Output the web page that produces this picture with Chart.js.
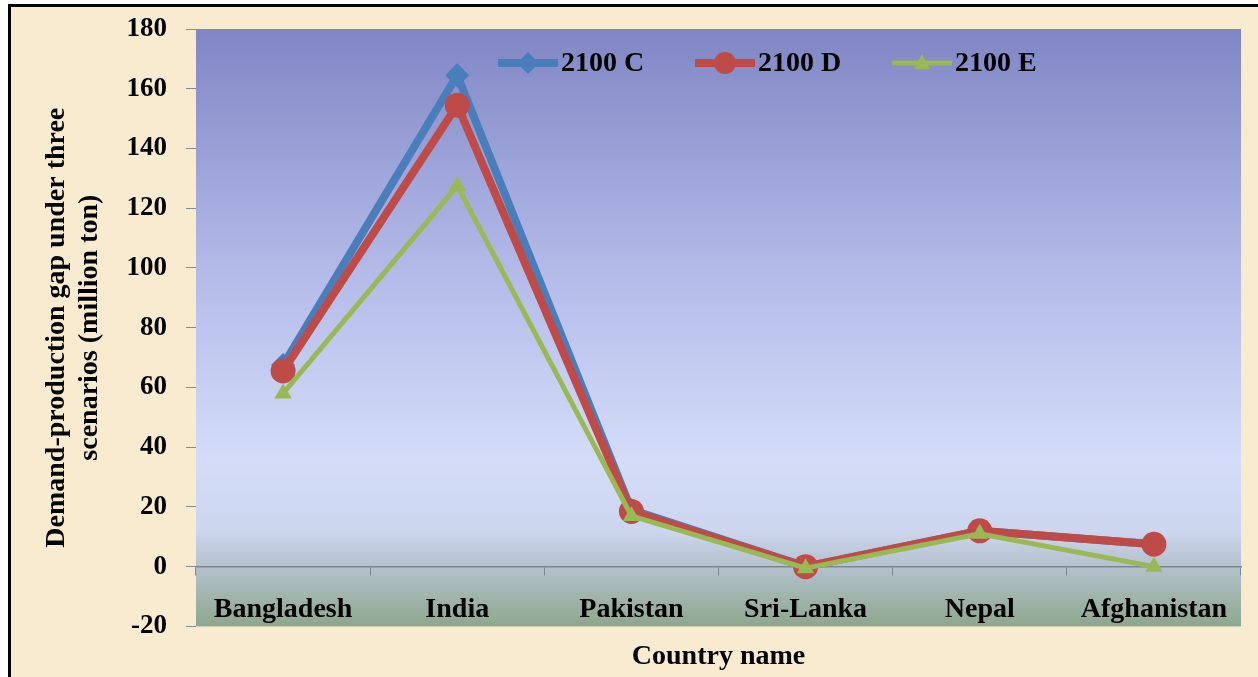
<!DOCTYPE html>
<html>
<head>
<meta charset="utf-8">
<script src="https://cdn.jsdelivr.net/npm/chart.js@4.4.1/dist/chart.umd.min.js"></script>
<style>
  html, body { margin: 0; padding: 0; background: #ffffff; overflow: hidden; }
  #frame { position: absolute; left: 8px; top: 4px; width: 1270px; height: 690px;
           border-left: 3px solid #000; border-top: 3px solid #000; background: #f8ebd0; }
  #wrap { position: absolute; left: 0; top: 0; width: 1258px; height: 677px; }
</style>
</head>
<body>
<div id="frame"></div>
<div id="wrap"><canvas id="lineChart"></canvas></div>
<script>
// chart values
var countries = ['Bangladesh', 'India', 'Pakistan', 'Sri-Lanka', 'Nepal', 'Afghanistan'];
var scenarioC = [67.5, 164.5, 19, 0, 12, 7.5];
var scenarioD = [65.5, 154.5, 18.5, 0, 12, 7.5];
var scenarioE = [58, 127.5, 17, -0.5, 11, 0];
var seriesNames = ['2100 C', '2100 D', '2100 E'];
var yMin = -20, yMax = 180, yStep = 20;

var yTitle = ['Demand-production gap under three', 'scenarios (million ton)'];
var xTitle = 'Country name';

var colors = ['#4a7ebb', '#be4b48', '#98b954'];
var styles = ['rectRot', 'circle', 'triangle'];
var lineWidths = [8, 8, 5];

Chart.defaults.font.family = "'Liberation Serif', 'Times New Roman', serif";
Chart.defaults.color = '#000';

// small line+marker icon for the legend
function legendIcon(color, style, lineW) {
  var c = document.createElement('canvas');
  c.width = 60; c.height = 26;
  var g = c.getContext('2d');
  g.strokeStyle = color; g.fillStyle = color;
  g.lineWidth = lineW;
  g.beginPath(); g.moveTo(0, 13); g.lineTo(60, 13); g.stroke();
  g.beginPath();
  if (style == 'rectRot') {
    g.moveTo(30, 2); g.lineTo(41, 13); g.lineTo(30, 24); g.lineTo(19, 13);
  } else if (style == 'circle') {
    g.arc(30, 13, 11, 0, Math.PI * 2);
  } else {
    g.moveTo(30, 4); g.lineTo(38, 19); g.lineTo(22, 19);
  }
  g.closePath(); g.fill();
  return c;
}
var icons = [];
for (var i = 0; i < 3; i++) icons.push(legendIcon(colors[i], styles[i], lineWidths[i]));

var plotBackground = {
  id: 'plotBackground',
  beforeDraw: function(chart) {
    var ctx = chart.ctx, a = chart.chartArea;
    var g = ctx.createLinearGradient(0, a.top, 0, a.bottom);
    g.addColorStop(0, '#7f86c4');
    g.addColorStop(0.40, '#b3bae8');
    g.addColorStop(0.72, '#d4dcf9');
    g.addColorStop(0.84, '#cdd6ee');
    g.addColorStop(0.90, '#b3c1cc');
    g.addColorStop(1, '#8ea78e');
    ctx.save();
    ctx.fillStyle = g;
    ctx.fillRect(a.left, a.top, a.right - a.left, a.bottom - a.top);
    ctx.restore();
  }
};

// legend sits inside the plot, in one row near the top
var inPlotLegend = {
  id: 'inPlotLegend',
  beforeDatasetsDraw: function(chart) {
    var ctx = chart.ctx, a = chart.chartArea;
    var x = a.left + 302, y = a.top + 34;
    ctx.save();
    ctx.font = "bold 28px 'Liberation Serif', 'Times New Roman', serif";
    ctx.fillStyle = '#000';
    ctx.textBaseline = 'middle';
    chart.data.datasets.forEach(function(ds, i) {
      ctx.drawImage(icons[i], x, y - 13);
      ctx.fillText(ds.label, x + 63, y + 1);
      x += 197;
    });
    ctx.restore();
  }
};

var serif = { size: 27, weight: 'bold' };

var ctx = document.getElementById('lineChart').getContext('2d');
var lineChart = new Chart(ctx, {
  type: 'line',
  data: {
    labels: countries,
    datasets: [{
      label: seriesNames[0],
      data: scenarioC,
      borderColor: colors[0],
      backgroundColor: colors[0],
      borderWidth: lineWidths[0],
      pointStyle: styles[0],
      pointRadius: 12,
      pointBorderWidth: 0,
      order: 3
    }, {
      label: seriesNames[1],
      data: scenarioD,
      borderColor: colors[1],
      backgroundColor: colors[1],
      borderWidth: lineWidths[1],
      pointStyle: styles[1],
      pointRadius: 12.5,
      pointBorderWidth: 0,
      order: 2
    }, {
      label: seriesNames[2],
      data: scenarioE,
      borderColor: colors[2],
      backgroundColor: colors[2],
      borderWidth: lineWidths[2],
      pointStyle: styles[2],
      pointRadius: 10,
      pointBorderWidth: 0,
      order: 1
    }]
  },
  options: {
    responsive: true,
    maintainAspectRatio: false,
    animation: false,
    layout: { padding: { left: 20, top: 29, right: 17, bottom: 0 } },
    plugins: {
      tooltip: { enabled: false },
      legend: { display: false },
      title: {
        display: true,
        position: 'bottom',
        fullSize: false,
        text: xTitle,
        color: '#000',
        font: { size: 28, weight: 'bold', lineHeight: 1.2 },
        padding: { top: 14, bottom: 3 }
      }
    },
    scales: {
      x: {
        position: { y: 0 },
        offset: true,
        border: { display: true, color: '#7d8593', width: 1.5 },
        grid: { drawOnChartArea: false, drawTicks: true, tickLength: 8, color: '#7d8593', offset: true },
        ticks: { color: '#000', font: { size: 28, weight: 'bold' }, padding: 18 },
        afterFit: function(scale) { scale.paddingTop = 0; scale.paddingBottom = 0; }
      },
      y: {
        min: yMin,
        max: yMax,
        ticks: { stepSize: yStep, color: '#000', font: serif, padding: 19 },
        grid: { drawOnChartArea: false, drawTicks: true, tickLength: 10, color: '#8a8a8a' },
        border: { display: false },
        title: {
          display: true,
          text: yTitle,
          color: '#000',
          font: { size: 28, weight: 'bold', lineHeight: 1.15 },
          padding: { top: 21, bottom: 0 }
        },
        afterFit: function(scale) {
          scale.width = 176;
          scale.paddingTop = 0;
          scale.paddingBottom = 0;
        }
      }
    }
  },
  plugins: [plotBackground, inPlotLegend]
});
</script>
</body>
</html>
